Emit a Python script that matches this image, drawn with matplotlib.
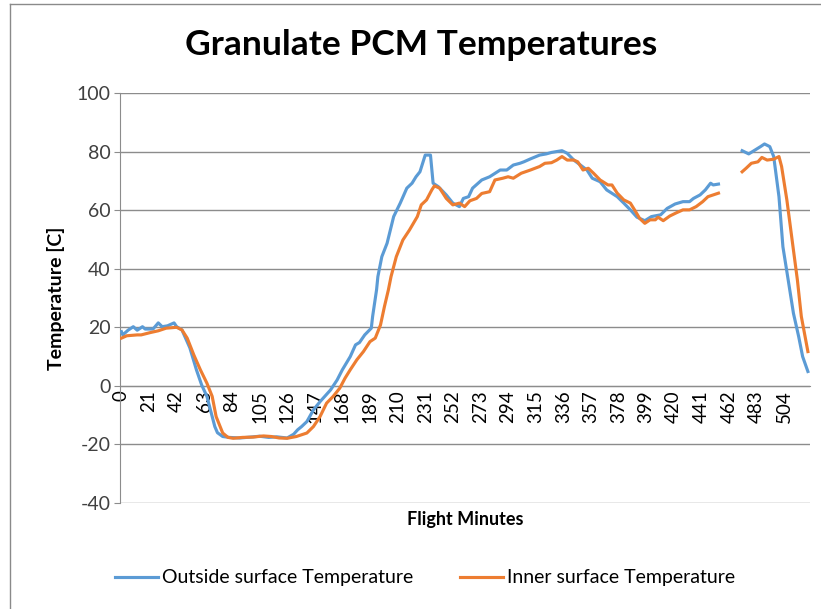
import numpy as np
import matplotlib.pyplot as plt
from matplotlib.lines import Line2D

nan = np.nan

# Outside surface temperature (minutes, deg C); NaN = missing data
outside_min = [0, 1, 5, 9, 12, 16, 18, 24, 28, 31, 35, 40, 42, 46, 52, 57, 61, 65, 71, 73, 77,
               82, 90, 98, 105, 112, 118, 126, 131, 134, 137, 141, 146, 151, 159, 164, 168, 174,
               178, 181, 185, 190, 191, 194, 195, 198, 202, 207, 212, 217, 221, 224, 227, 231,
               235, 237, 241, 247, 252, 257, 260, 264, 267, 274, 280, 288, 293, 298, 303, 306,
               311, 318, 323, 327, 335, 339, 344, 349, 354, 358, 364, 369, 377, 382, 387, 392,
               398, 403, 410, 415, 421, 427, 432, 435, 440, 444, 448, 450, 454, 462, 472, 477,
               481, 486, 489, 493, 496, 500, 503, 507, 511, 515, 518, 522]
outside_temp = [18.5, 17.4, 19.0, 20.2, 19.0, 20.2, 19.4, 19.4, 21.5, 20.2, 20.5, 21.5, 20.2,
                19.1, 13.0, 5.5, 0.3, -3.6, -13.9, -16.0, -17.3,
                -17.6, -17.8, -17.5, -17.2, -17.6, -17.4, -17.8, -16.5, -15.0, -13.9, -12.2,
                -8.2, -5.4, -1.4, 2.0, 5.5, 10.0, 14.0, 14.8, 17.4, 19.7, 23.7, 32.8, 37.3,
                44.1, 48.7, 57.8, 62.4, 67.5, 69.2, 71.4, 73.1, 78.8, 78.8, 69.2, 68.0, 65.2,
                62.4, 61.2, 64.0, 64.6, 67.5, 70.3, 71.4, 73.7, 73.7, 75.4, 76.0, 76.5, 77.5,
                78.8, 79.2, 79.7, 80.3, 79.4, 77.1, 75.4, 73.7, 70.9, 69.7, 66.9, 64.6, 62.4,
                60.1, 57.6, 56.4, 57.8, 58.4, 60.6, 62.1, 62.9, 62.9, 64.0, 65.2, 66.9, 69.2,
                68.6, 68.9, nan, 80.3, 79.2, 80.3, 81.7, 82.6, 81.7, 78.3, 64.6, 47.5, 36.2,
                24.8, 16.8, 10.0, 4.9]

# Inner surface temperature
inner_min = [0, 4, 12, 15, 22, 28, 34, 42, 46, 50, 55, 60, 65, 69, 72, 77, 81, 85, 92, 100,
             108, 114, 120, 126, 133, 141, 146, 151, 156, 161, 166, 170, 174, 179, 184, 189,
             193, 197, 200, 203, 205, 209, 214, 219, 225, 228, 232, 236, 238, 242, 247, 252,
             257, 261, 265, 270, 274, 280, 284, 290, 294, 298, 304, 311, 318, 322, 327, 331,
             335, 339, 344, 347, 351, 355, 359, 364, 370, 373, 377, 382, 387, 391, 394, 398,
             402, 406, 408, 412, 417, 422, 427, 432, 437, 442, 446, 450, 454, 462, 472, 475,
             479, 484, 487, 491, 496, 500, 502, 506, 510, 514, 517, 522]
inner_temp = [16.3, 17.1, 17.4, 17.4, 18.2, 18.8, 19.7, 20.0, 19.1, 16.3, 10.6, 5.5, 0.9,
              -3.6, -10.5, -16.1, -17.6, -17.9, -17.6, -17.5, -17.1, -17.3, -17.8, -17.9,
              -17.3, -16.1, -13.9, -10.5, -5.9, -3.6, -0.8, 2.6, 5.5, 8.9, 11.7, 15.1, 16.3,
              20.8, 27.1, 32.8, 37.3, 44.1, 49.8, 53.2, 57.8, 61.8, 63.5, 66.9, 68.3, 67.5,
              64.0, 61.8, 62.4, 61.2, 63.2, 64.0, 65.7, 66.3, 70.3, 70.9, 71.4, 70.9, 72.6,
              73.7, 74.9, 76.0, 76.2, 77.1, 78.3, 77.1, 77.1, 76.5, 73.7, 74.3, 72.6, 70.3,
              68.6, 68.6, 65.8, 63.5, 62.4, 59.5, 57.2, 55.5, 56.7, 56.7, 57.6, 56.4, 58.0,
              59.1, 60.1, 60.1, 61.2, 62.9, 64.6, 65.2, 65.8, nan, 73.1, 74.3, 76.0, 76.5,
              78.0, 77.1, 77.4, 78.3, 74.9, 63.5, 49.8, 36.2, 23.7, 11.7]

x_ticks = list(range(0, 505, 21))
y_ticks = [-40, -20, 0, 20, 40, 60, 80, 100]

plt.rcParams['font.family'] = ['Lato', 'DejaVu Sans']
plt.rcParams['axes.unicode_minus'] = False
grid_col = '#8c8c8c'
text_col = '#404040'

W, H = 821, 609
fig = plt.figure(figsize=(W / 100, H / 100), dpi=100)
ax = fig.add_axes([120 / W, 1 - 503 / H, 690 / W, 410 / H])

ax.plot(outside_min, outside_temp, color='#5B9BD5', lw=2.25, label='Outside surface Temperature',
        solid_joinstyle='round', zorder=3)
ax.plot(inner_min, inner_temp, color='#ED7D31', lw=2.25, label='Inner surface Temperature',
        solid_joinstyle='round', zorder=3)

for s in ['top', 'right']:
    ax.spines[s].set_visible(False)
ax.spines['left'].set_color(grid_col)
ax.spines['bottom'].set_color(grid_col)
ax.spines['bottom'].set_position(('data', 0))

ax.set_xlim(-1.1, 523.6)
ax.set_ylim(-40, 100)
ax.set_yticks(y_ticks)
ax.set_xticks(x_ticks)
ax.set_xticklabels([str(t) for t in x_ticks])
ax.yaxis.grid(True, color=grid_col, lw=1)
ax.set_axisbelow(True)

ax.tick_params(axis='y', colors=grid_col, labelcolor=text_col, labelsize=14, length=4, pad=3)
ax.tick_params(axis='x', length=0, labelcolor='black', labelsize=13.5, pad=3,
               labelrotation=90)

ax.set_ylabel('Temperature [C]', fontsize=14, fontweight='bold', labelpad=8)
fig.text(465 / W, 1 - 520 / H, 'Flight Minutes', ha='center', va='center', fontsize=13,
         fontweight='bold')
fig.text(421 / W, 1 - 45 / H, 'Granulate PCM Temperatures', ha='center', va='center',
         fontsize=25.5, fontweight='bold')

fig.legend(loc='center', bbox_to_anchor=(425 / W, 1 - 578 / H), ncol=2, frameon=False,
           fontsize=14, handlelength=2.2, handletextpad=0.2, columnspacing=2.4)

# chart area border (only left and top edges are visible in the frame)
fig.add_artist(Line2D([9.5 / W, 9.5 / W], [0, 1 - 4 / H], color='#8a8a8a', lw=1))
fig.add_artist(Line2D([9.5 / W, 1], [1 - 4 / H, 1 - 4 / H], color='#8a8a8a', lw=1))

fig.savefig('out.png', dpi=100)
